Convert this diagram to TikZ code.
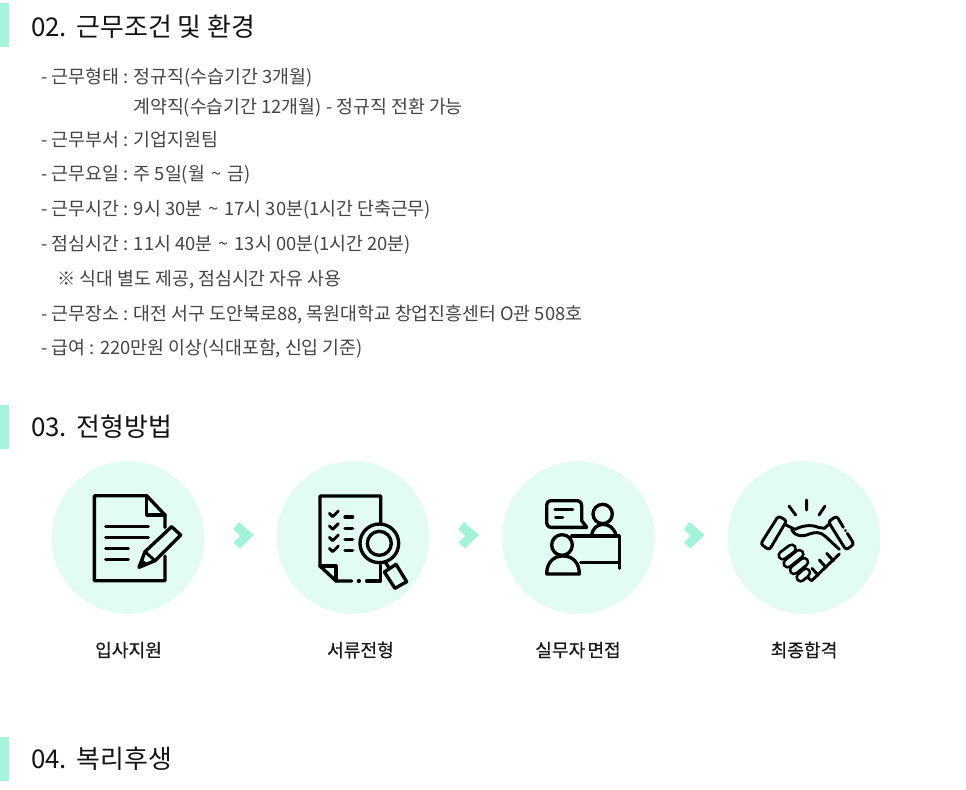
\documentclass[tikz,border=0pt]{standalone}
\usepackage{fontspec}
\setmainfont{Noto Sans CJK KR}
\newfontfamily\labelfont[FakeBold=0.4]{Noto Sans CJK KR}
\definecolor{barmint}{HTML}{A4F5DA}
\definecolor{circmint}{HTML}{E2FCF3}
\definecolor{chevmint}{HTML}{A2F3D9}
\definecolor{bodytext}{HTML}{444444}
\newcommand{\tld}{\kern1.5pt\~{}\kern1.5pt}
\tikzset{
  bar/.style={fill=barmint,draw=none},
  heading/.style={anchor=base west,inner sep=0pt,font=\fontsize{19.4pt}{21pt}\selectfont,text=black!92},
  bodyline/.style={anchor=base west,inner sep=0pt,font=\fontsize{13.75pt}{15pt}\selectfont,text=bodytext},
  steplabel/.style={anchor=center,inner sep=0pt,font=\labelfont\fontsize{13.6pt}{15pt}\selectfont,text=black!90},
  disc/.style={circle,fill=circmint,draw=none,minimum size=114.5pt,inner sep=0pt},
  chev/.style={fill=chevmint,draw=none},
  ink/.style={draw=black,line width=2.5pt,line cap=round,line join=round},
  thin ink/.style={draw=black,line width=2.2pt,line cap=round,line join=round},
  zoomed/.style={x=0.25pt,y=-0.25pt},
}
\begin{document}
\begin{tikzpicture}[x=0.75pt,y=-0.75pt]
\useasboundingbox (0,0) rectangle (966,789);
\fill[white] (0,0) rectangle (966,789);
% section bars
\fill[bar] (0,3) rectangle (9,47);
\fill[bar] (0,405) rectangle (9,449);
\fill[bar] (0,737) rectangle (9,781);
% headings
\node[heading] (h2) at (31,36) {02.\kern1.5pt{} 근무조건 및 환경};
\node[heading] (h3) at (31,436) {03.\kern1.5pt{} 전형방법};
\node[heading] (h4) at (31,768) {04.\kern1.5pt{} 복리후생};
% body
\node[bodyline] (l1) at (41,83) {- 근무형태 : 정규직(수습기간 3개월)};
\node[bodyline] (l2) at (133,113) {계약직(수습기간 12개월) - 정규직 전환 가능};
\node[bodyline] (l3) at (41,146) {- 근무부서 : 기업지원팀};
\node[bodyline] (l4) at (41,180) {- 근무요일 : 주 5일(월 \tld{} 금)};
\node[bodyline] (l5) at (41,215) {- 근무시간 : 9시 30분 \tld{} 17시 30분(1시간 단축근무)};
\node[bodyline] (l6) at (41,250) {- 점심시간 : 11시 40분 \tld{} 13시 00분(1시간 20분)};
\node[bodyline] (l7) at (57,285) {※ 식대 별도 제공, 점심시간 자유 사용};
\node[bodyline] (l8) at (41,320) {- 근무장소 : 대전 서구 도안북로88, 목원대학교 창업진흥센터 O관 508호};
\node[bodyline] (l9) at (41,354) {- 급여 : 220만원 이상(식대포함, 신입 기준)};
% discs
\node[disc] (c1) at (128,537.5) {};
\node[disc] (c2) at (353,537.5) {};
\node[disc] (c3) at (578.5,537.5) {};
\node[disc] (c4) at (804,537.5) {};
% labels
\node[steplabel] (s1) at (128.5,650) {입사지원};
\node[steplabel] (s2) at (360.5,650) {서류전형};
\node[steplabel] (s3) at (578,650) {실무자\kern-1.5pt{} 면접};
\node[steplabel] (s4) at (804,650) {최종합격};
% chevrons
\foreach \cx in {0,225,450.5}{
  \fill[chev,shift={(\cx,0)}] (239,522) -- (254,535) -- (240,548.5) -- (233.5,542.5) -- (240,536) -- (233.5,529) -- cycle;
}
% icon 1
\begin{scope}[shift={(40,450)},zoomed]
  \draw[ink] (375,232) -- (375,195) -- (320,137) -- (163,137) -- (163,392) -- (375,392) -- (375,318);
  \draw[ink] (320,137) -- (320,195) -- (375,195);
  \draw[ink] (197,230) -- (325,230) (197,262) -- (325,262) (197,295) -- (265,295) (197,328) -- (265,328);
  \draw[ink,fill=circmint] (297,352) -- (315,305) -- (395,230) -- (422,255) -- (345,332) -- cycle;
  \draw[thin ink] (315,305) -- (345,332);
  \fill[black] (297,352) -- (306,328) -- (322,340) -- cycle;
\end{scope}
% icon 2
\begin{scope}[shift={(40,450)},zoomed]
  \draw[ink] (1022,222) -- (1022,138) -- (840,138) -- (840,348) -- (888,393) -- (935,393);
  \draw[ink] (980,393) -- (1022,393) -- (1022,345);
  \draw[ink] (955,393) -- (958,393);
  \draw[ink] (840,348) -- (888,348) -- (888,393);
  \foreach \y in {190,228,262,295}{
    \draw[thin ink] (868,\y) -- (878,\y+10) -- (895,\y-7);
  }
  \foreach \y in {201,235,268,302}{
    \draw[ink] (915,\y) -- (938,\y);
  }
  \draw[ink,fill=circmint] (1018,280) circle[radius=58];
  \draw[ink] (1018,280) circle[radius=36];
  \draw[ink] (1036,337) -- (1048,355);
  \draw[ink,fill=circmint] (1033,366) -- (1068,343) -- (1100,395) -- (1065,415) -- cycle;
\end{scope}
% icon 3
\begin{scope}[shift={(490,450)},zoomed]
  \draw[ink] (185,152) -- (260,152) .. controls (270,152) and (275,158) .. (275,168) -- (275,212) -- (290,232) -- (185,232) .. controls (175,232) and (170,226) .. (170,216) -- (170,168) .. controls (170,158) and (175,152) .. (185,152) -- cycle;
  \draw[ink] (195,178) -- (248,178) (197,203) -- (218,203);
  \draw[ink] (338,192) circle[radius=29];
  \draw[ink] (305,256) .. controls (310,212) and (368,212) .. (378,256);
  \draw[ink] (245,258) -- (388,258) -- (388,355);
  \draw[ink] (272,337) -- (388,337);
  \draw[ink] (216,285) circle[radius=31];
  \draw[ink] (170,372) -- (268,372) .. controls (268,335) and (245,318) .. (219,318) .. controls (193,318) and (170,335) .. (170,372);
\end{scope}
% icon 4
\begin{scope}[shift={(490,450)},zoomed]
  \draw[thin ink] (950,150) -- (950,180) (897,168) -- (917,195) (1005,168) -- (987,195);
  % cuffs
  \draw[thin ink,rounded corners=2pt] (865,198) -- (890,212) -- (838,300) -- (812,282) -- cycle;
  \draw[thin ink,rounded corners=2pt] (1060,232) -- (1040,198) -- (1015,215) -- (1068,300) -- (1092,282) -- (1072,250);
  \draw[thin ink] (1066,241) -- (1067,242);
  % hands
  \draw[thin ink] (888,225) -- (915,238) .. controls (935,228) and (960,222) .. (985,232) -- (1003,235) -- (1020,220);
  \draw[thin ink] (905,240) .. controls (915,258) and (935,262) .. (958,252) .. controls (975,246) and (990,245) .. (1005,258) -- (1048,298);
  \draw[thin ink] (1048,312) -- (1000,358) -- (965,392) -- (950,380);
  \draw[thin ink] (1030,332) -- (1010,310) (1008,352) -- (988,330) (985,376) -- (966,355);
  \foreach \a/\b/\c/\d in {932/382/948/368, 912/360/942/336, 893/340/928/312, 878/316/905/296}{
    \draw[black,line width=8pt,line cap=round] (\a,\b) -- (\c,\d);
    \draw[circmint,line width=3.8pt,line cap=round] (\a,\b) -- (\c,\d);
  }
\end{scope}
\end{tikzpicture}
\end{document}
